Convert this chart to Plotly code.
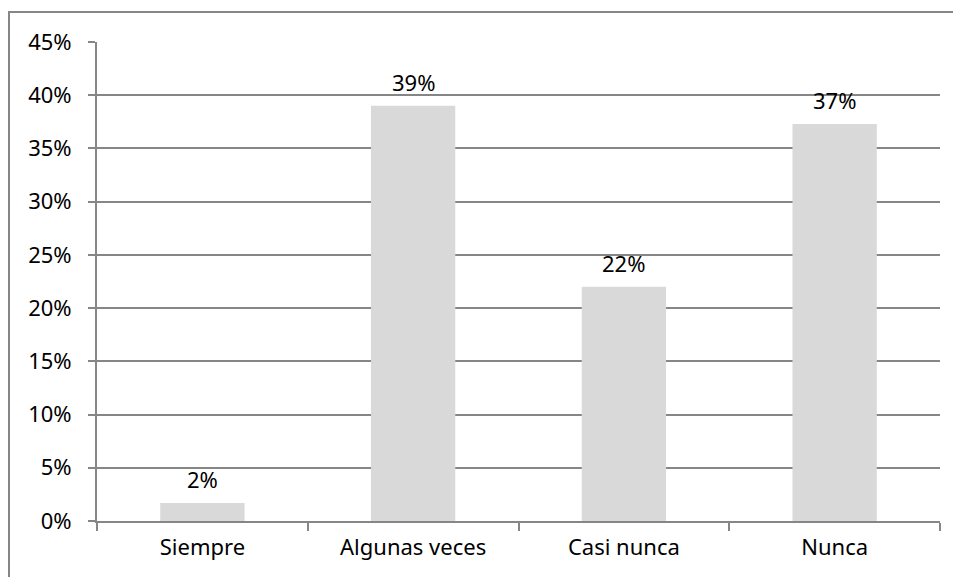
import plotly.graph_objects as go

categories = ["Siempre", "Algunas veces", "Casi nunca", "Nunca"]
values = [0.017, 0.39, 0.22, 0.373]
labels = ["2%", "39%", "22%", "37%"]
y_ticks = [0, 0.05, 0.10, 0.15, 0.20, 0.25, 0.30, 0.35, 0.40, 0.45]
y_tick_text = ["0%", "5%", "10%", "15%", "20%", "25%", "30%", "35%", "40%", "45%"]

FONT = "Noto Sans"
GRID = "#868686"
FS = 22

# page body has an 8px offset; margins compensate so plot area lands at 97..940 x 42..521
L, T = 89, 34
R = 961 - (940 - 8)
B = 577 - (521 - 8)
PW = 961 - L - R
PH = 577 - T - B

fig = go.Figure()
fig.add_trace(go.Bar(
    x=categories, y=values,
    marker=dict(color="#d9d9d9", line=dict(width=0)),
    width=0.4,
    hoverinfo="skip",
))

for c, v, t in zip(categories, values, labels):
    fig.add_annotation(x=c, y=v, text=t, showarrow=False, yanchor="middle",
                       yshift=24, font=dict(family=FONT, size=FS, color="#000000"))

fig.update_layout(
    width=961, height=577,
    margin=dict(l=L, r=R, t=T, b=B),
    paper_bgcolor="white", plot_bgcolor="white",
    showlegend=False,
    bargap=0.6,
    font=dict(family=FONT, size=FS, color="#000000"),
    xaxis=dict(
        showline=True, linecolor=GRID, linewidth=2,
        ticks="outside", tickson="boundaries", ticklen=8, tickcolor=GRID, tickwidth=2,
        ticklabelstandoff=6,
        showgrid=False, fixedrange=True,
    ),
    yaxis=dict(
        range=[0, 0.45], tickvals=y_ticks, ticktext=y_tick_text,
        showline=True, linecolor=GRID, linewidth=2,
        ticks="outside", ticklen=7, tickcolor=GRID, tickwidth=2,
        ticklabelstandoff=12,
        showgrid=True, gridcolor=GRID, gridwidth=2,
        zeroline=False, fixedrange=True,
    ),
    shapes=[dict(type="rect", xref="paper", yref="paper",
                 x0=(1 - L) / PW, x1=1.2, y0=-0.3, y1=1 + (T - (-4 + 8)) / PH,
                 line=dict(color=GRID, width=2), fillcolor="rgba(0,0,0,0)", layer="below")],
)

fig.write_html("out.html")
